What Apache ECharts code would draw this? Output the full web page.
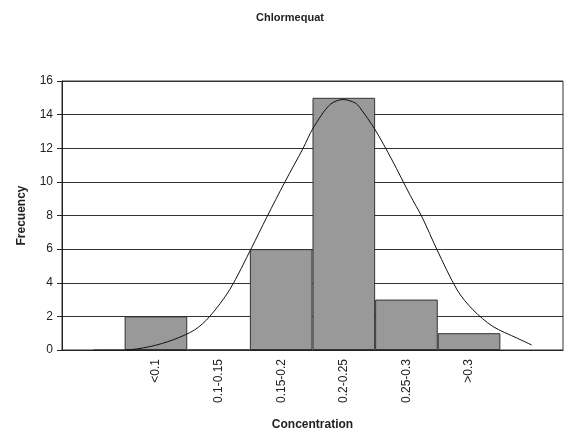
<!DOCTYPE html>
<html>
<head>
<meta charset="utf-8">
<script src="https://cdn.jsdelivr.net/npm/echarts@6/dist/echarts.min.js"></script>
<style>
  html, body { margin: 0; padding: 0; background: #fff; }
  #chart { width: 568px; height: 432px; }
</style>
</head>
<body>
<div id="chart"></div>
<script>
// histogram bins
const categories = ['', '<0.1', '0.1-0.15', '0.15-0.2', '0.2-0.25', '0.25-0.3', '>0.3', '']
const frequencies = [null, 2, 0, 6, 15, 3, 1, null]
// fitted curve, x in category units (0 = left edge of plot)
const curveX = [0.5, 1.0, 1.4, 1.77, 2.12, 2.36, 2.68, 3.03, 3.27, 3.56, 3.85, 4.01, 4.28, 4.49, 4.68, 4.76, 5.0, 5.27, 5.56, 5.75, 5.99, 6.31, 6.56, 6.88, 7.27, 7.5]
const curveY = [0, 0, 0.2, 0.6, 1.2, 2.0, 3.6, 6.1, 7.9, 10, 12, 13.2, 14.6, 14.9, 14.7, 14.4, 13.1, 11.3, 9.2, 7.9, 5.95, 3.57, 2.4, 1.4, 0.7, 0.3]

const font = 'Liberation Sans, Arial, sans-serif'
const chart = echarts.init(document.getElementById('chart'))

chart.setOption({
  animation: false,
  title: {
    text: 'Chlormequat',
    left: 285,
    top: 7,
    textAlign: 'center',
    textStyle: { fontFamily: font, fontSize: 11, fontWeight: 'bold', color: '#222' }
  },
  grid: {
    left: 62,
    right: 5,
    top: 81,
    bottom: 82,
    outerBoundsMode: 'none',
    show: true,
    borderColor: '#333',
    borderWidth: 1
  },
  xAxis: [
    {
      type: 'category',
      data: categories,
      boundaryGap: true,
      name: 'Concentration',
      nameLocation: 'middle',
      nameGap: 69,
      nameTextStyle: { fontFamily: font, fontSize: 12, fontWeight: 'bold', color: '#222' },
      axisLine: { lineStyle: { color: '#222' } },
      axisTick: { length: 5, lineStyle: { color: '#222' } },
      axisLabel: {
        rotate: 90,
        interval: 0,
        margin: 9,
        fontFamily: font,
        fontSize: 12,
        color: '#222'
      }
    },
    {
      type: 'value',
      min: 0,
      max: 8,
      show: false
    }
  ],
  yAxis: {
    type: 'value',
    min: 0,
    max: 16,
    interval: 2,
    name: 'Frecuency',
    nameLocation: 'middle',
    nameGap: 34,
    nameTextStyle: { fontFamily: font, fontSize: 12, fontWeight: 'bold', color: '#222' },
    axisLine: { show: true, lineStyle: { color: '#222' } },
    axisTick: { show: true, length: 5, lineStyle: { color: '#222' } },
    axisLabel: { margin: 9, fontFamily: font, fontSize: 12, color: '#222' },
    splitLine: { lineStyle: { color: '#333', width: 1 } }
  },
  series: [
    {
      type: 'bar',
      data: frequencies,
      barCategoryGap: '0%',
      itemStyle: { color: '#999999', borderColor: '#333', borderWidth: 1 }
    },
    {
      type: 'line',
      xAxisIndex: 1,
      data: curveX.map((x, i) => [x, curveY[i]]),
      smooth: 0.3,
      showSymbol: false,
      lineStyle: { color: '#111', width: 1 }
    }
  ]
})
</script>
</body>
</html>
